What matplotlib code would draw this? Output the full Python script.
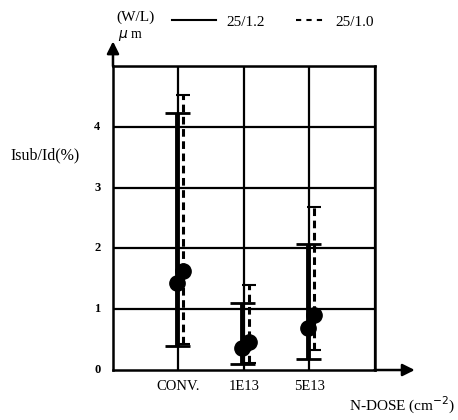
import numpy as np
from matplotlib import pyplot as plt
from matplotlib.lines import Line2D

plt.rcParams['font.family'] = ['Liberation Serif', 'DejaVu Serif']

# data
doses = ['CONV.', '1E13', '5E13']
pos = np.array([1, 2, 3])

mean_12 = [1.43, 0.36, 0.69]   # W/L 25/1.2 (solid)
low_12 = [0.40, 0.10, 0.18]
high_12 = [4.22, 1.10, 2.07]

mean_10 = [1.62, 0.46, 0.90]   # W/L 25/1.0 (dashed)
low_10 = [0.42, 0.12, 0.33]
high_10 = [4.52, 1.40, 2.68]

yticks = [0, 1, 2, 3, 4]

fig = plt.figure(figsize=(4.58, 4.2), dpi=100)
ax = fig.add_axes([0.2467, 0.119, 0.572, 0.724])

# solid series
m = np.array(mean_12)
err = [m - np.array(low_12), np.array(high_12) - m]
ax.errorbar(pos - 0.03, m, yerr=err, fmt='o', color='black', ms=11,
            elinewidth=3.5, capsize=9, capthick=2, zorder=4)

# dashed series
m = np.array(mean_10)
err = [m - np.array(low_10), np.array(high_10) - m]
eb = ax.errorbar(pos + 0.07, m, yerr=err, fmt='o', color='black', ms=11,
                 elinewidth=2.2, capsize=5, capthick=1.5, zorder=4)
eb[-1][0].set_linestyle((0, (2.5, 1.5)))

ax.set_xlim(0, 4)
ax.set_ylim(0, 5)
ax.set_xticks([1, 2, 3, 4])
ax.set_yticks([1, 2, 3, 4, 5])
ax.grid(color='black', linewidth=1.6)
ax.tick_params(length=0, labelbottom=False, labelleft=False)
for s in ax.spines.values():
    s.set_linewidth(1.8)

# tick labels
for p, d in zip(pos, doses):
    ax.text(p, -0.27, d, ha='center', va='center', fontsize=10.5)
for t in yticks:
    ax.text(-0.24, t, str(t), ha='center', va='center', fontsize=9, fontweight='bold')

# arrows for axes
ax.annotate('', xy=(4.65, 0), xytext=(3.95, 0), annotation_clip=False,
            arrowprops=dict(arrowstyle='-|>', color='black', lw=1.8, mutation_scale=18))
ax.annotate('', xy=(0, 5.45), xytext=(0, 4.95), annotation_clip=False,
            arrowprops=dict(arrowstyle='-|>', color='black', lw=1.8, mutation_scale=18))

fig.text(0.098, 0.629, 'Isub/Id(%)', fontsize=11.5, ha='center', va='center')
fig.text(0.995, 0.035, 'N-DOSE (cm$^{-2}$)', fontsize=11, ha='right', va='center')

# legend (two pieces so the dashed sample can be shorter)
fig.text(0.255, 0.958, '(W/L)', fontsize=11, va='center')
fig.text(0.257, 0.916, '$\\mu$ m', fontsize=10, va='center')
fig.legend([Line2D([], [], color='black', lw=1.5)], ['25/1.2'], frameon=False,
           loc='center left', bbox_to_anchor=(0.345, 0.948), fontsize=11,
           handlelength=2.9, handletextpad=0.7)
fig.legend([Line2D([], [], color='black', lw=1.5, linestyle=(0, (2.5, 2.5)))],
           ['25/1.0'], frameon=False,
           loc='center left', bbox_to_anchor=(0.617, 0.948), fontsize=11,
           handlelength=1.85, handletextpad=0.7)

plt.savefig('out.png', dpi=100)
